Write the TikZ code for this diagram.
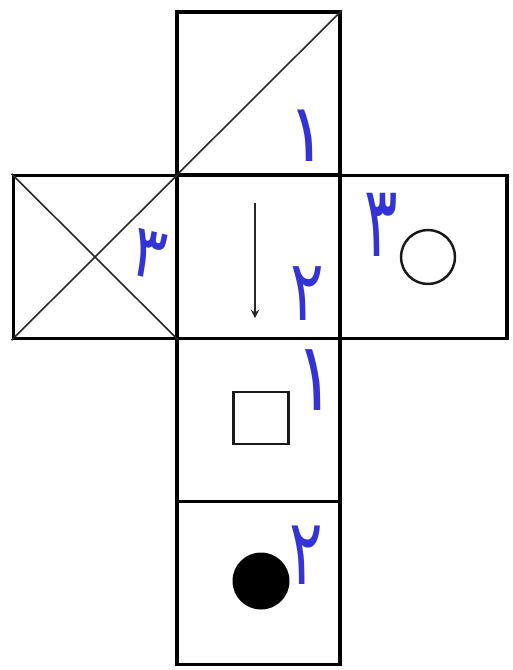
\documentclass[tikz,border=0pt]{standalone}
\usepackage{fontspec}
\newfontfamily\persianfont[Script=Arabic]{DejaVu Sans}
\TeXXeTstate=1
\definecolor{inkblue}{RGB}{52,52,214}
\begin{document}
\begin{tikzpicture}[x=0.02cm, y=-0.02cm,
      face/.style={rectangle, draw=black, line width=2pt, minimum width=3.27cm, minimum height=3.26cm, inner sep=0pt},
      cut/.style={line width=0.9pt, black!85},
      figure/.style={draw=black!90, line width=1.4pt, inner sep=0pt},
      digit/.style={text=inkblue, font=\persianfont\fontsize{42}{42}\selectfont, inner sep=0pt}
  ]
    \useasboundingbox (0,0) rectangle (513,670);

    % faces of the net
    \foreach \n/\y in {top/93.5, mid/257, below/420, bottom/583} {
      \node[face] (\n) at (258.5,\y) {};
    }
    \node[face] (left) at (95,257) {};
    \node[face, minimum width=3.34cm] (right) at (423.5,257) {};

    % marks on the faces
    \draw[cut] (top.south west) -- (top.north east);
    \draw[cut] (left.north west) -- (left.south east);
    \draw[cut] (left.south west) -- (left.north east);
    \coordinate (arrowtail) at (255,203);
    \coordinate (arrowhead) at (255,318);
    \draw[cut, line width=1.1pt, ->, >=stealth] (arrowtail) -- (arrowhead);
    \node[figure, circle, minimum size=1.08cm] (ring) at (428,257) {};
    \node[figure, rectangle, minimum width=1.1cm, minimum height=1.04cm] (box) at (261,418) {};
    \node[circle, fill=black, minimum size=1.14cm, inner sep=0pt] (dot) at (261,581) {};

    % handwritten numbers
    \node[digit, yscale=1.1] (one1) at (307,136) {\beginR ۱\endR};
    \node[digit, xscale=0.85, rotate=-12] (three1) at (149,255) {\beginR ۳\endR};
    \node[digit, xscale=0.85, yscale=1.35] (three2) at (381,225) {\beginR ۳\endR};
    \node[digit, xscale=0.85, yscale=1.15] (two1) at (307,294) {\beginR ۲\endR};
    \node[digit, yscale=1.3] (one2) at (315,380) {\beginR ۱\endR};
    \node[digit, xscale=0.85, yscale=1.25] (two2) at (306,555) {\beginR ۲\endR};
  \end{tikzpicture}
\end{document}
